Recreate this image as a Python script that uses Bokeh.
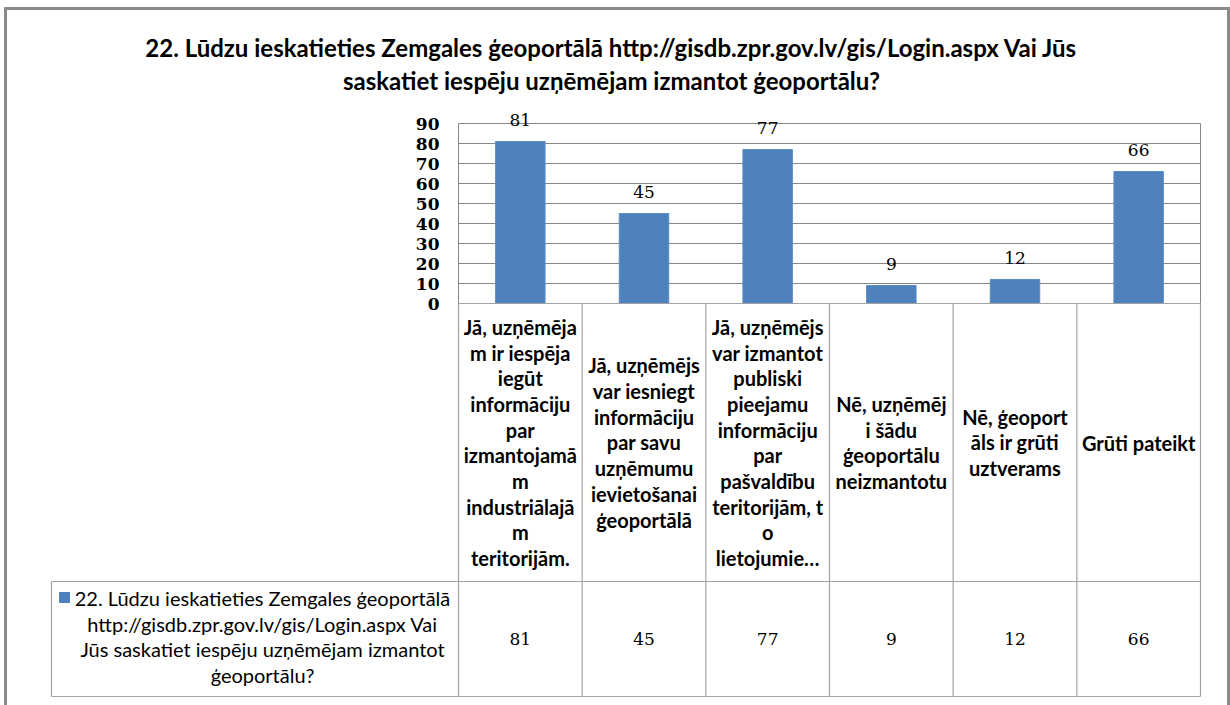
from bokeh.plotting import figure
from bokeh.models import Range1d, LinearAxis, FixedTicker
from bokeh.embed import file_html
from bokeh.resources import INLINE
from bokeh.core.properties import value

# ---------------- data ----------------
title_lines = [
    "22. Lūdzu ieskatieties Zemgales ģeoportālā http://gisdb.zpr.gov.lv/gis/Login.aspx Vai Jūs",
    "saskatiet iespēju uzņēmējam izmantot ģeoportālu?",
]
categories = [
    "Jā, uzņēmēja\nm ir iespēja\niegūt\ninformāciju\npar\nizmantojamā\nm\nindustriālajā\nm\nteritorijām.",
    "Jā, uzņēmējs\nvar iesniegt\ninformāciju\npar savu\nuzņēmumu\nievietošanai\nģeoportālā",
    "Jā, uzņēmējs\nvar izmantot\npubliski\npieejamu\ninformāciju\npar\npašvaldību\nteritorijām, t\no\nlietojumie…",
    "Nē, uzņēmēj\ni šādu\nģeoportālu\nneizmantotu",
    "Nē, ģeoport\nāls ir grūti\nuztverams",
    "Grūti pateikt",
]
counts = [81, 45, 77, 9, 12, 66]
y_ticks = [0, 10, 20, 30, 40, 50, 60, 70, 80, 90]
series_name = ("22. Lūdzu ieskatieties Zemgales ģeoportālā\n"
               "http://gisdb.zpr.gov.lv/gis/Login.aspx Vai\n"
               "Jūs saskatiet iespēju uzņēmējam izmantot\n"
               "ģeoportālu?")

# ---------------- layout helpers (canvas pixels -> data) ----------------
W, H = 1230, 705
n = len(categories)
PX_X0 = 458.0
COL_W = (1200.0 - 458.0) / n
PX_Y0 = 303.0
PX_PER_UNIT = 180.0 / 90.0


def xd(px):
    return (px - PX_X0) / COL_W


def yd(py):
    return (PX_Y0 - py) / PX_PER_UNIT


BAR_BLUE = "#4F81BD"
GRID = "#868686"
TABLE = "#a3a3a3"
FRAME = "#8a8a8a"
SANS = "Lato"
SERIF = "DejaVu Serif"

p = figure(width=W, height=H,
           x_range=Range1d(xd(0), xd(W)),
           y_range=Range1d(yd(H), yd(0)),
           output_backend="svg", toolbar_location=None,
           x_axis_location=None, y_axis_location=None,
           min_border=0)
p.outline_line_color = None
p.background_fill_color = "white"
p.border_fill_color = "white"
p.grid.visible = False

centers = [i + 0.5 for i in range(n)]

# gridlines
p.segment(x0=[0] * len(y_ticks), x1=[n] * len(y_ticks), y0=y_ticks, y1=y_ticks,
          line_color=GRID, line_width=1)
# plot-area right edge
p.segment(x0=[n], x1=[n], y0=[0], y1=[max(y_ticks)], line_color=GRID, line_width=1)

# bars
p.vbar(x=centers, top=counts, bottom=0, width=0.4,
       fill_color=BAR_BLUE, line_color="#5a8ac4", line_width=1)

# data labels above bars
p.text(x=centers, y=counts, text=[str(v) for v in counts],
       text_align="center", text_baseline="middle", y_offset=-22,
       text_font=value(SERIF), text_font_size="17px", text_color="black")

# y axis
yax = LinearAxis(fixed_location=0, bounds=(0, max(y_ticks)),
                 ticker=FixedTicker(ticks=y_ticks))
yax.axis_line_color = GRID
yax.major_tick_line_color = None
yax.minor_tick_line_color = None
yax.major_tick_out = 0
yax.major_tick_in = 0
yax.major_label_standoff = 19
yax.major_label_text_font = SERIF
yax.major_label_text_font_style = "bold"
yax.major_label_text_font_size = "17px"
yax.major_label_text_color = "black"
p.add_layout(yax, "left")

# ---------------- data table ----------------
hdr_bot = yd(581)
row_bot = yd(696)
lab_left = xd(51)

# horizontal table lines
p.segment(x0=[0, lab_left, lab_left], x1=[n, n, n],
          y0=[0, hdr_bot, row_bot], y1=[0, hdr_bot, row_bot],
          line_color=TABLE, line_width=1.2)
# vertical table lines
xs = list(range(n + 1))
p.segment(x0=xs, x1=xs, y0=[row_bot] * len(xs), y1=[0] * len(xs),
          line_color=TABLE, line_width=1.2)
p.segment(x0=[lab_left], x1=[lab_left], y0=[row_bot], y1=[hdr_bot],
          line_color=TABLE, line_width=1.2)

# header (category) cells
p.text(x=centers, y=[(0 + hdr_bot) / 2] * n, text=categories,
       text_align="center", text_baseline="middle",
       text_font=value(SANS), text_font_style="bold", text_font_size="20px",
       text_line_height=1.07, text_color="black")

# series name cell with legend key
p.scatter(x=[xd(64)], y=[yd(597)], marker="square", size=10,
          fill_color=BAR_BLUE, line_color=BAR_BLUE)
p.text(x=[xd(262)], y=[yd(636)], text=[series_name],
       text_align="center", text_baseline="middle",
       text_font=value(SANS), text_font_size="20px",
       text_line_height=1.07, text_color="black")

# values row
p.text(x=centers, y=[yd(638)] * n, text=[str(v) for v in counts],
       text_align="center", text_baseline="middle",
       text_font=value(SERIF), text_font_size="17px", text_color="black")

# ---------------- title ----------------
p.text(x=[xd(611), xd(611)], y=[yd(47), yd(80)], text=title_lines,
       text_align="center", text_baseline="middle",
       text_font=value(SANS), text_font_style="bold", text_font_size="24px",
       text_color="black")

# ---------------- outer chart frame ----------------
p.segment(x0=[xd(5), xd(4), xd(1228)], x1=[xd(5), xd(1230), xd(1228)],
          y0=[yd(705), yd(8), yd(705)], y1=[yd(7), yd(8), yd(7)],
          line_color=FRAME, line_width=3)

open("out.html", "w").write(file_html(p, INLINE))
